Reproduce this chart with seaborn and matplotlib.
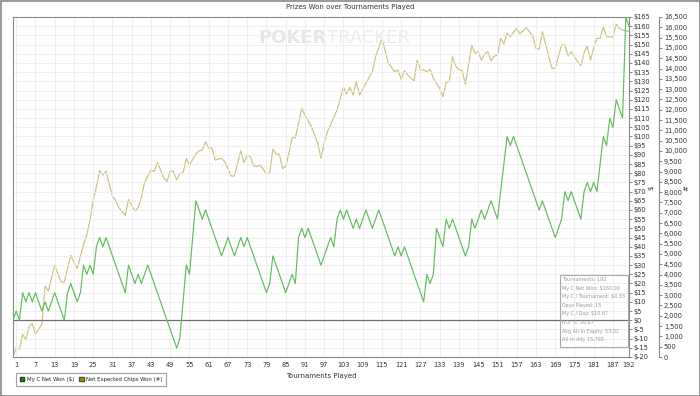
import pandas as pd
import seaborn as sns
import matplotlib.pyplot as plt
from matplotlib.patches import Patch, Rectangle
from matplotlib.ticker import FuncFormatter

# My C Net Won ($), cumulative after each tournament (0..192)
net_won = [
    0, 5, 0, 15, 10, 15, 10, 15, 10, 5, 10, 5, 10, 15, 10, 5, 0, 15, 20, 15,
    10, 15, 30, 25, 30, 25, 40, 45, 40, 45, 40, 35, 30, 25, 20, 15, 30, 25, 20, 25,
    20, 25, 30, 25, 20, 15, 10, 5, 0, -5, -10, -15, -10, 10, 30, 25, 45, 65, 60, 55,
    60, 55, 50, 45, 40, 35, 40, 45, 40, 35, 40, 45, 40, 45, 40, 35, 30, 25, 20, 15,
    20, 35, 30, 25, 20, 15, 20, 25, 20, 45, 50, 45, 50, 45, 40, 35, 30, 35, 40, 45,
    40, 55, 60, 55, 60, 55, 50, 55, 50, 55, 60, 55, 50, 55, 60, 55, 50, 45, 40, 35,
    40, 35, 40, 35, 30, 25, 20, 15, 10, 25, 20, 25, 50, 45, 40, 55, 50, 55, 50, 45,
    40, 35, 40, 55, 50, 55, 60, 55, 60, 65, 60, 55, 70, 85, 100, 95, 100, 95, 90, 85,
    80, 75, 70, 65, 60, 65, 60, 55, 50, 45, 50, 55, 70, 65, 70, 65, 60, 55, 70, 75,
    70, 75, 70, 85, 100, 95, 110, 105, 120, 115, 110, 165, 160,
]
tournaments = list(range(len(net_won)))

# Net Expected Chips Won (#), read at the turning points of the line
chips_t = [
    0, 1, 2, 3, 4, 5, 6, 7, 9, 10, 11, 13, 15, 16, 18, 20, 22, 23, 24, 25,
    26, 27, 28, 29, 31, 32, 33, 35, 36, 38, 39, 40, 41, 43, 44, 45, 47, 48, 49, 50,
    51, 52, 53, 54, 55, 57, 58, 59, 60, 61, 62, 63, 65, 66, 68, 69, 71, 72, 73, 74,
    75, 76, 77, 79, 80, 81, 82, 83, 84, 85, 86, 87, 88, 90, 91, 93, 95, 96, 97, 98,
    101, 103, 104, 105, 106, 107, 108, 110, 112, 113, 115, 117, 119, 120, 121, 122, 123, 125, 126, 127,
    128, 129, 130, 131, 132, 133, 134, 135, 136, 137, 138, 139, 140, 141, 143, 144, 145, 146, 147, 148,
    149, 150, 151, 152, 153, 154, 155, 157, 158, 160, 162, 163, 164, 165, 167, 168, 169, 171, 172, 173,
    174, 175, 176, 177, 178, 179, 180, 181, 182, 183, 184, 185, 187, 188, 189, 190, 192,
]
chips_won = [
    0, 450, 370, 1100, 825, 1470, 1635, 1100, 1590, 3445, 3200, 4450, 3640, 3640, 4935, 4290, 5470, 5930, 6650, 7620,
    8260, 9060, 8830, 9025, 7800, 7600, 7245, 6875, 7650, 7085, 7245, 7730, 8460, 9075, 8990, 9450, 8700, 8510, 9040, 9000,
    8590, 8915, 8915, 9640, 9320, 9850, 10000, 10040, 10450, 10130, 10150, 9560, 9640, 9480, 8780, 8780, 10010, 9430, 9800, 9720,
    9280, 9240, 9320, 8880, 8915, 10080, 9850, 9850, 9155, 9240, 9885, 10640, 10640, 12070, 11745, 11175, 10370, 9640, 10370, 10935,
    11985, 13090, 12765, 13090, 12710, 13360, 12710, 13280, 13845, 14570, 15465, 14250, 13845, 13930, 13475, 13895, 13685, 13395, 14410, 13930,
    13930, 13850, 13960, 13525, 13280, 13040, 12630, 13310, 13360, 14570, 14120, 13930, 13900, 13235, 15140, 14740, 14815, 14410, 14700, 14815,
    14380, 14600, 14655, 15465, 15190, 15710, 15550, 15950, 15675, 15980, 15580, 14980, 14935, 15790, 14570, 14010, 14010, 15140, 15140, 14610,
    14815, 14570, 14330, 14135, 14770, 15090, 14410, 15010, 15465, 15465, 16030, 15545, 15520, 16160, 15950, 15870, 15792,
]

x_ticks = list(range(1, 188, 6)) + [192]
stats_lines = [
    "Tournaments: 192",
    "My C Net Won: $160.00",
    "My C / Tournament: $0.83",
    "Days Played: 15",
    "My C / Day: $10.67",
    "ROI %: 16.67",
    "Avg All-In Equity: 53.02",
    "All-In Adj: 15,792",
]

green = "#62bb5e"
olive = "#cdc27a"

sns.set_style("white")
plt.rcParams["font.family"] = ["DejaVu Sans"]

fig = plt.figure(figsize=(7, 3.96), dpi=100)
ax = fig.add_axes([13 / 700, 1 - 357 / 396, 616 / 700, 340 / 396])
ax2 = ax.twinx()

df_net = pd.DataFrame({"t": tournaments, "v": net_won})
df_chips = pd.DataFrame({"t": chips_t, "v": chips_won})

sns.lineplot(data=df_chips, x="t", y="v", ax=ax2, color=olive, lw=0.85,
             estimator=None, sort=False, zorder=2)
sns.lineplot(data=df_net, x="t", y="v", ax=ax, color=green, lw=0.85,
             estimator=None, sort=False, zorder=3)
ax.set_zorder(ax2.get_zorder() + 1)
ax.patch.set_visible(False)

ax.axhline(0, color="#707070", lw=0.9, zorder=1)

ax.set_xlim(0, 192)
ax.set_ylim(-20, 165)
ax2.set_ylim(0, 16500)
ax.set_xticks(x_ticks)
ax.set_yticks(range(-20, 170, 5))
ax2.set_yticks(range(0, 17000, 500))
ax.yaxis.tick_right()
ax.yaxis.set_major_formatter(FuncFormatter(lambda v, p: f"${int(v)}"))
ax2.yaxis.set_major_formatter(FuncFormatter(lambda v, p: f"{int(v):,}"))

ax.grid(True, color="#ececec", lw=0.6)
ax.set_xlabel("Tournaments Played", fontsize=5, color="#333333", labelpad=4)
ax.set_ylabel("")
ax2.set_ylabel("")

for a in (ax, ax2):
    a.tick_params(axis="both", labelsize=4.8, length=2, width=0.5,
                  colors="#555555", labelcolor="#333333", pad=1.5)
    for s in a.spines.values():
        s.set_color("#888888")
        s.set_linewidth(0.8)

ax2.spines["right"].set_position(("outward", 21.6))
ax2.spines["left"].set_visible(False)
ax2.spines["top"].set_visible(False)
ax2.spines["bottom"].set_visible(False)

fig.text(651 / 700, 1 - 188 / 396, "$", fontsize=5, rotation=90,
         ha="center", va="center", color="#333333")
fig.text(686 / 700, 1 - 188 / 396, "#", fontsize=5, rotation=90,
         ha="center", va="center", color="#333333")

fig.suptitle("Prizes Won over Tournaments Played", fontsize=5, x=0.5, y=1 - 7 / 396,
             va="center", color="#333333")

# watermark: bold "POKER" followed directly by lighter "TRACKER"
wm1 = fig.text(258 / 700, 1 - 38 / 396, "POKER", fontsize=13, fontweight="bold",
               color="#e6e6e6", va="center", ha="left", zorder=0)
fig.canvas.draw()
bb = wm1.get_window_extent()
fig.text(bb.x1 / fig.bbox.width + 1 / 700, 1 - 38 / 396, "TRACKER", fontsize=13,
         color="#ededed", va="center", ha="left", zorder=0)

# stats box
ax.add_patch(Rectangle((560 / 700, 1 - 347 / 396), 68 / 700, 72 / 396,
                       transform=fig.transFigure, fill=False,
                       edgecolor="#aaaaaa", lw=0.8, zorder=4))
for i, line in enumerate(stats_lines):
    fig.text(562 / 700, 1 - (279.5 + i * 8.6) / 396, line, fontsize=3.5,
             color="#999999", va="center", ha="left")

handles = [Patch(facecolor="#2e7d32", edgecolor="#1b4d1b", label="My C Net Won ($)"),
           Patch(facecolor="#9a9420", edgecolor="#5a5410", label="Net Expected Chips Won (#)")]
leg = fig.legend(handles=handles, loc="lower left", bbox_to_anchor=(13 / 700, 1 - 389 / 396),
                 ncol=2, fontsize=3.9, frameon=True, fancybox=False, handlelength=0.8,
                 handleheight=0.8, handletextpad=0.4, columnspacing=1.0, borderpad=0.8)
leg.get_frame().set_edgecolor("#888888")
leg.get_frame().set_linewidth(0.8)

fig.patches.append(Rectangle((0.5 / 700, 0.5 / 396), 699 / 700, 395 / 396,
                             transform=fig.transFigure, fill=False,
                             edgecolor="#888888", lw=1.2))

plt.savefig("out.png", dpi=100)
